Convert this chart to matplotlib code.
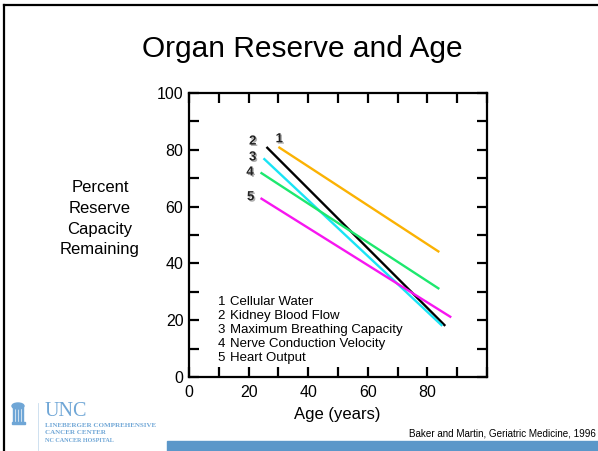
import matplotlib
matplotlib.use("Agg")
import matplotlib.pyplot as plt
from matplotlib.lines import Line2D
from matplotlib.patches import Rectangle, Ellipse
import matplotlib.patheffects as pe

plt.rcParams['font.family'] = ['Liberation Sans', 'DejaVu Sans']

# ---- data ----
series_names = ["Cellular Water", "Kidney Blood Flow", "Maximum Breathing Capacity",
                "Nerve Conduction Velocity", "Heart Output"]
series_ids = ["1", "2", "3", "4", "5"]
age_start = [30, 26, 25, 24, 24]
age_end = [84, 86, 85, 84, 88]
pct_start = [81, 81, 77, 72, 63]
pct_end = [44, 18, 18, 31, 21]
colors = ["#FBB203", "#000000", "#19E4F5", "#1DE86E", "#F716F0"]
label_x = [30.3, 21.4, 21.4, 20.5, 20.7]
label_y = [83.7, 82.9, 77.3, 72.0, 63.3]
x_ticks = [0, 10, 20, 30, 40, 50, 60, 70, 80, 90, 100]
x_labels = ["0", "", "20", "", "40", "", "60", "", "80", "", ""]
y_ticks = [0, 10, 20, 30, 40, 50, 60, 70, 80, 90, 100]
y_labels = ["0", "", "20", "", "40", "", "60", "", "80", "", "100"]

W, H = 598, 451
fig = plt.figure(figsize=(W / 100, H / 100), dpi=100)


def P(x, y):
    return x / W, 1 - y / H


ax = fig.add_axes([189 / W, 1 - 377 / H, (487 - 189) / W, (377 - 93) / H])
for i in range(len(series_ids)):
    ax.plot([age_start[i], age_end[i]], [pct_start[i], pct_end[i]],
            color=colors[i], lw=1.7, solid_capstyle='butt')
    ax.text(label_x[i], label_y[i], series_ids[i], fontsize=9.5, fontweight='bold',
            ha='center', va='center', color='#222222',
            path_effects=[pe.withSimplePatchShadow(offset=(1, -1), shadow_rgbFace='#999999', alpha=0.8)])

leg_y = [26.5, 21.5, 16.4, 11.5, 6.6]
for i in range(len(series_ids)):
    ax.text(9.6, leg_y[i], series_ids[i], fontsize=9.5, ha='left', va='center')
    ax.text(13.6, leg_y[i], series_names[i], fontsize=9.5, ha='left', va='center')

ax.set_xlim(0, 100)
ax.set_ylim(0, 100)
ax.set_xticks(x_ticks)
ax.set_xticklabels(x_labels)
ax.set_yticks(y_ticks)
ax.set_yticklabels(y_labels)
ax.tick_params(direction='in', length=7.5, width=1.6, labelsize=11.5,
               top=True, right=True, pad=4)
ax.tick_params(axis='x', pad=5.5)
for s in ax.spines.values():
    s.set_linewidth(1.6)

# slide text
fig.text(*P(302.5, 57), "Organ Reserve and Age", fontsize=21.5, ha='center', va='baseline')
fig.text(*P(337, 419), "Age (years)", fontsize=12, ha='center', va='baseline')
for t, yy in zip(["Percent", "Reserve", "Capacity", "Remaining"], [192, 213, 234, 254]):
    fig.text(*P(100, yy), t, fontsize=12, ha='center', va='baseline')
fig.text(*P(409, 433), "Baker and Martin, Geriatric Medicine, 1996", fontsize=7.1,
         ha='left', va='center')

# blue bar
fig.patches.append(Rectangle(P(167, 451), (W - 167) / W, 10.5 / H,
                             transform=fig.transFigure, color='#5B97C9', zorder=0))
# border
fig.lines.append(Line2D([4 / W, 4 / W], [0, 1 - 5 / H], transform=fig.transFigure,
                        color='black', lw=1.6))
fig.lines.append(Line2D([4 / W, 1], [1 - 5 / H, 1 - 5 / H], transform=fig.transFigure,
                        color='black', lw=1.6))

# UNC logo
lc = '#6FA6D6'
fig.patches.append(Ellipse(P(18, 406), 12 / W, 6 / H, transform=fig.transFigure,
                           color=lc))
for xx in [13, 16, 19, 22]:
    fig.patches.append(Rectangle(P(xx, 422), 1.4 / W, 15 / H,
                                 transform=fig.transFigure, color=lc))
fig.patches.append(Rectangle(P(12, 424), 13 / W, 2.2 / H, transform=fig.transFigure,
                             color=lc))
fig.lines.append(Line2D([38 / W, 38 / W], [1 - 450 / H, 1 - 403 / H],
                        transform=fig.transFigure, color='#C8DCEE', lw=0.6))
fig.text(*P(45, 416), "UNC", fontsize=14.5, family='Liberation Serif', color=lc,
         ha='left', va='baseline')
fig.text(*P(45, 427), "LINEBERGER COMPREHENSIVE", fontsize=5.0, family='Liberation Serif',
         color=lc, ha='left', va='baseline', fontweight='bold')
fig.text(*P(45, 434), "CANCER CENTER", fontsize=5.0, family='Liberation Serif',
         color=lc, ha='left', va='baseline', fontweight='bold')
fig.text(*P(45, 442), "NC CANCER HOSPITAL", fontsize=4.4, family='Liberation Serif',
         color=lc, ha='left', va='baseline', fontweight='bold')

fig.savefig("out.png", dpi=100)
